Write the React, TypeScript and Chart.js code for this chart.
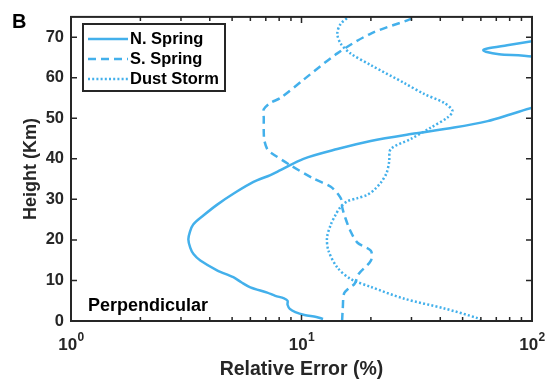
import React, { useEffect, useRef } from 'react';
import { Chart, registerables } from 'chart.js';

Chart.register(...registerables);

// ---- data (height in km, relative error in %) ----
const nSpringHeight = [0.5, 1.0, 1.5, 2.2, 3.0, 4.0, 5.0, 5.6, 6.2, 7.0, 8.3, 9.5, 10.8, 12.5, 14.9, 16.5, 18.1, 20.1, 22.0, 23.8, 26.0, 28.7, 31.5, 34.3, 36.0, 37.2, 40.0, 42.4, 44.4, 46.1, 47.7, 49.3, 51.0, 52.6, 54.0, 56.0, 62.0, 65.2, 65.8, 66.4, 66.8, 67.2, 68.0, 69.0, 70.0, 75.0];
const nSpringError = [12.4, 11.6, 10.3, 9.4, 8.9, 8.7, 8.7, 8.4, 7.7, 7.1, 6.0, 5.5, 5.06, 4.3, 3.64, 3.4, 3.29, 3.23, 3.28, 3.39, 3.75, 4.31, 5.1, 6.19, 7.33, 8.1, 10.2, 14.3, 19.95, 29.8, 45.9, 64.2, 81, 100, 125, 150, 150, 100, 72, 63, 61.5, 64, 78, 100, 130, 250];

const sSpringHeight = [0, 3.0, 6.8, 8.0, 9.2, 11.6, 14.9, 17.3, 19.3, 22.2, 25.4, 28.2, 29.5, 31.1, 33.1, 35.1, 38.4, 41.6, 42.4, 44.5, 46.5, 50.0, 52.2, 53.8, 55.0, 59.5, 66.0, 70.9, 74.5, 75.5];
const sSpringError = [15.0, 15.1, 15.3, 16.0, 17.0, 17.7, 20.0, 20.0, 17.5, 16.3, 15.5, 15.0, 15.0, 14.5, 13.4, 11.3, 8.96, 7.33, 7.1, 6.9, 6.86, 6.86, 6.86, 7.33, 8.1, 10.2, 14.3, 20.0, 29.8, 31.5];

const dustHeight = [0, 0.7, 3.1, 5.5, 8.4, 10.4, 13.2, 17.3, 20.5, 23.8, 26.0, 28.2, 29.5, 30.3, 31.1, 32.5, 34.3, 36.5, 39.2, 42.4, 44.9, 47.7, 50.2, 51.8, 53.8, 56.0, 58.7, 63.1, 66.0, 68.4, 70.9, 73.3, 75.5];
const dustError = [60, 58, 41.6, 27.9, 20.0, 16.3, 14.3, 13.1, 12.9, 13.4, 14.0, 14.8, 15.8, 17.5, 19.3, 20.8, 22.2, 23.4, 24.0, 24.4, 29.8, 36.4, 43.0, 45.2, 41.6, 34, 27.9, 20.0, 16.3, 14.8, 14.3, 14.8, 16.5];

const seriesNames = ['N. Spring', 'S. Spring', 'Dust Storm'];
const yTicks = [0, 10, 20, 30, 40, 50, 60, 70];
const xDecades = [1, 10, 100];
const xExponents = ['0', '1', '2'];
const panelLabel = 'B';
const noteLabel = 'Perpendicular';
const xTitle = 'Relative Error (%)';
const yTitle = 'Height (Km)';

const LINE = '#43B0EB';
const AXIS = '#262626';
const FONT = '"Liberation Sans", Arial, Helvetica, sans-serif';
const DASHES: number[][] = [[], [8, 5], [2, 2.2]];

const pairs = (hs: number[], es: number[]) => hs.map((h, i) => ({ x: es[i], y: h }));

const decoPlugin = {
  id: 'deco',
  afterDatasetsDraw(chart: any) {
    const { ctx, chartArea: a, scales } = chart;
    const xs = scales.x;
    const ys = scales.y;
    ctx.save();
    ctx.strokeStyle = AXIS;
    ctx.lineWidth = 1.5;
    // x ticks (major + minor) on bottom and top
    const xMinor: number[] = [];
    for (let d = 0; d < xDecades.length - 1; d++) {
      for (let m = 2; m <= 9; m++) xMinor.push(xDecades[d] * m);
    }
    ctx.beginPath();
    xDecades.forEach((v) => {
      const px = xs.getPixelForValue(v);
      ctx.moveTo(px, a.bottom); ctx.lineTo(px, a.bottom - 6);
      ctx.moveTo(px, a.top); ctx.lineTo(px, a.top + 6);
    });
    xMinor.forEach((v) => {
      const px = xs.getPixelForValue(v);
      ctx.moveTo(px, a.bottom); ctx.lineTo(px, a.bottom - 4);
      ctx.moveTo(px, a.top); ctx.lineTo(px, a.top + 4);
    });
    yTicks.forEach((v) => {
      const py = ys.getPixelForValue(v);
      ctx.moveTo(a.left, py); ctx.lineTo(a.left + 6, py);
      ctx.moveTo(a.right, py); ctx.lineTo(a.right - 6, py);
    });
    ctx.stroke();
    // frame
    ctx.lineWidth = 2;
    ctx.strokeRect(a.left, a.top, a.right - a.left, a.bottom - a.top);

    // x tick labels 10^n
    ctx.fillStyle = AXIS;
    ctx.textBaseline = 'alphabetic';
    xDecades.forEach((v, i) => {
      const px = xs.getPixelForValue(v);
      ctx.font = `bold 17px ${FONT}`;
      const wBase = ctx.measureText('10').width;
      ctx.font = `bold 12px ${FONT}`;
      const wExp = ctx.measureText(xExponents[i]).width;
      const x0 = px - (wBase + wExp) / 2;
      ctx.textAlign = 'left';
      ctx.font = `bold 17px ${FONT}`;
      ctx.fillText('10', x0, 350);
      ctx.font = `bold 12px ${FONT}`;
      ctx.fillText(xExponents[i], x0 + wBase + 0.5, 341);
    });

    // legend
    const lx = 83, ly = 24, lw = 142, lh = 67;
    ctx.fillStyle = '#ffffff';
    ctx.fillRect(lx, ly, lw, lh);
    ctx.strokeStyle = AXIS;
    ctx.lineWidth = 2;
    ctx.strokeRect(lx, ly, lw, lh);
    seriesNames.forEach((name, i) => {
      const ry = 39 + i * 20;
      ctx.save();
      ctx.strokeStyle = LINE;
      ctx.lineWidth = 2.5;
      ctx.setLineDash(DASHES[i]);
      ctx.beginPath();
      ctx.moveTo(88, ry);
      ctx.lineTo(128, ry);
      ctx.stroke();
      ctx.restore();
      ctx.fillStyle = '#000000';
      ctx.font = `bold 16.5px ${FONT}`;
      ctx.textAlign = 'left';
      ctx.textBaseline = 'middle';
      ctx.fillText(name, 130, ry + 0.5);
    });

    // annotations
    ctx.fillStyle = '#000000';
    ctx.textBaseline = 'alphabetic';
    ctx.textAlign = 'left';
    ctx.font = `bold 18px ${FONT}`;
    ctx.fillText(noteLabel, 88, 311);
    ctx.font = `bold 20px ${FONT}`;
    ctx.fillText(panelLabel, 12, 28);
    ctx.restore();
  },
};

export default function App() {
  const ref = useRef<HTMLCanvasElement | null>(null);
  useEffect(() => {
    if (!ref.current) return;
    const mk = (label: string, data: any[], dash: number[]) => ({
      label,
      data,
      showLine: true,
      borderColor: LINE,
      backgroundColor: LINE,
      borderWidth: 2.5,
      borderDash: dash,
      pointRadius: 0,
      tension: 0.3,
      fill: false,
    });
    const chart = new Chart(ref.current, {
      type: 'scatter',
      data: {
        datasets: [
          mk(seriesNames[0], pairs(nSpringHeight, nSpringError), DASHES[0]),
          mk(seriesNames[1], pairs(sSpringHeight, sSpringError), DASHES[1]),
          mk(seriesNames[2], pairs(dustHeight, dustError), DASHES[2]),
        ],
      },
      options: {
        animation: false,
        responsive: false,
        devicePixelRatio: 1,
        events: [],
        layout: { padding: { top: 13, right: 19, left: 0, bottom: 0 } },
        plugins: { legend: { display: false }, tooltip: { enabled: false } },
        scales: {
          x: {
            type: 'logarithmic',
            min: 1,
            max: 100,
            grid: { display: false, drawTicks: false },
            border: { display: false },
            ticks: { display: false },
            afterBuildTicks: (s: any) => { s.ticks = xDecades.map((v) => ({ value: v })); },
            afterFit: (s: any) => { s.height = 58; },
            title: {
              display: true,
              text: xTitle,
              color: AXIS,
              font: { family: FONT, size: 19.5, weight: 'bold', lineHeight: 1 },
              padding: { top: 0, bottom: 0 },
            },
          },
          y: {
            type: 'linear',
            min: 0,
            max: 75,
            grid: { display: false, drawTicks: false },
            border: { display: false },
            afterBuildTicks: (s: any) => { s.ticks = yTicks.map((v) => ({ value: v })); },
            afterFit: (s: any) => { s.width = 71; },
            ticks: {
              color: AXIS,
              padding: 7,
              font: { family: FONT, size: 16.5, weight: 'bold' },
            },
            title: {
              display: true,
              text: yTitle,
              color: AXIS,
              font: { family: FONT, size: 18, weight: 'bold', lineHeight: 1 },
              padding: { top: 22, bottom: 0 },
            },
          },
        },
      },
      plugins: [decoPlugin],
    } as any);
    return () => chart.destroy();
  }, []);
  return (
    <div style={{ position: 'absolute', left: 0, top: 0, width: 551, height: 379, background: '#fff' }}>
      <canvas ref={ref} width={551} height={379} style={{ display: 'block' }} />
    </div>
  );
}
